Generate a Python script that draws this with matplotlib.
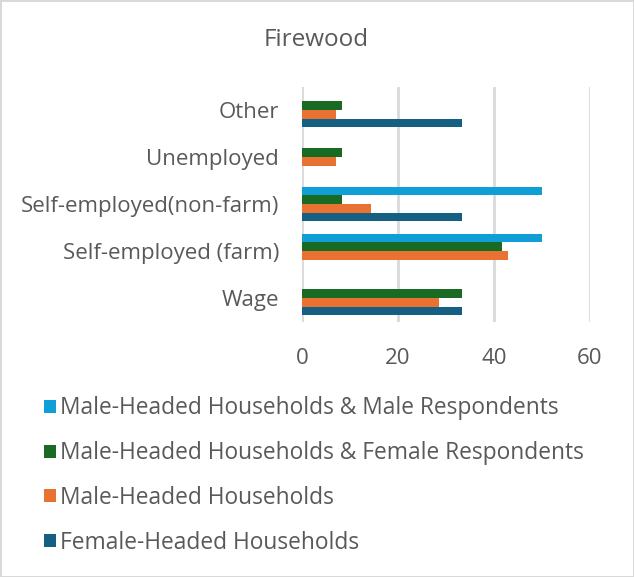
import numpy as np
import matplotlib.pyplot as plt

plt.rcParams['font.family'] = ['Open Sans', 'DejaVu Sans']

categories = ['Wage', 'Self-employed (farm)', 'Self-employed(non-farm)', 'Unemployed', 'Other']
series_names = ['Male-Headed Households & Male Respondents',
                'Male-Headed Households & Female Respondents',
                'Male-Headed Households',
                'Female-Headed Households']
male_male = [0, 50, 50, 0, 0]
male_female = [33.3, 41.7, 8.3, 8.3, 8.3]
male_headed = [28.6, 42.9, 14.3, 7.1, 7.1]
female_headed = [33.3, 0, 33.3, 0, 33.3]
colors = ['#0F9ED5', '#196B24', '#E97132', '#156082']

text_color = '#595959'
grid_color = '#D9D9D9'

fig = plt.figure(figsize=(6.34, 5.77), dpi=100, edgecolor=grid_color, linewidth=2)
ax = fig.add_axes([302 / 634, 1 - 321.5 / 577, 288 / 634, 235 / 577])

y = np.arange(len(categories))
h = 0.181
all_series = [male_male, male_female, male_headed, female_headed]
offsets = [1.5, 0.5, -0.5, -1.5]
for vals, off, col, name in zip(all_series, offsets, colors, series_names):
    ax.barh(y + off * h, vals, height=h, color=col, label=name)

ax.set_xlim(0, 60)
ax.set_ylim(-0.5, 4.5)
ax.set_xticks([0, 20, 40, 60])
ax.set_yticks(y)
ax.set_yticklabels(categories)
ax.xaxis.grid(True, color=grid_color, linewidth=2)
ax.set_axisbelow(True)
for s in ax.spines.values():
    s.set_visible(False)
ax.tick_params(length=0, labelsize=16, colors=text_color)
ax.tick_params(axis='y', pad=16.4)
ax.tick_params(axis='x', pad=19)

fig.text(316 / 634, 1 - 40 / 577, 'Firewood', ha='center', va='center', fontsize=17.5, color=text_color)

handles, labels = ax.get_legend_handles_labels()
leg = fig.legend(handles, labels, loc='upper left', bbox_to_anchor=(33 / 634, 1 - 385 / 577),
                 frameon=False, fontsize=16.4, labelspacing=0.91, handlelength=0.5, handleheight=0.5,
                 handletextpad=0.2, borderpad=0)
for t in leg.get_texts():
    t.set_color(text_color)

fig.savefig('out.png', dpi=100, edgecolor=fig.get_edgecolor())
